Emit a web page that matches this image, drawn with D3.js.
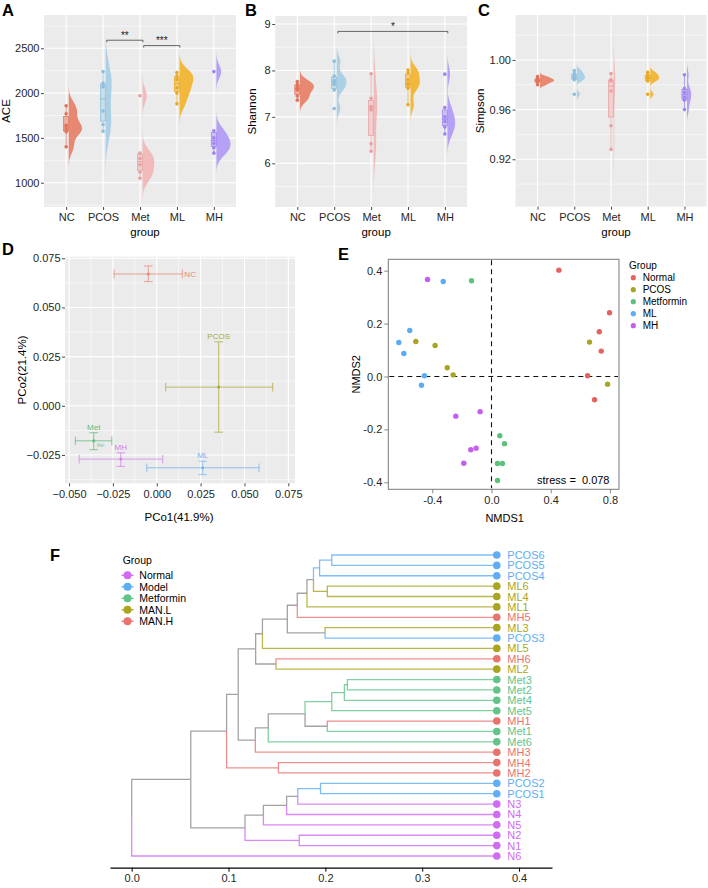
<!DOCTYPE html>
<html><head><meta charset="utf-8">
<script src="https://cdn.jsdelivr.net/npm/d3@7/dist/d3.min.js"></script>
<style>
body{margin:0;background:#fff}
svg{display:block}
text{font-family:"Liberation Sans",Arial,Helvetica,sans-serif}
</style>
</head><body>
<svg id="c" width="708" height="888"></svg>
<script>
// ================= DATA =================
const groups = ["NC","PCOS","Met","ML","MH"];
const violinColors = ["#E8836B","#A9CFE5","#F1B8B8","#F2B533","#B39CF5"];
const pointColors  = ["#E27258","#8DBFDC","#E9A0A0","#E9A925","#A084F0"];

const aceSamples = [
  [1858,1770,1640,1600,1570,1400],
  [2240,2110,2070,1800,1650,1575],
  [1970,1330,1270,1200,1120,1050],
  [2230,2190,2150,2060,2000,1880],
  [2240,1580,1500,1440,1390,1330]];
const shannonSamples = [
  [7.76,7.70,7.63,7.58,7.45,7.36],
  [8.20,7.88,7.78,7.70,7.58,7.18],
  [7.93,7.40,7.22,7.15,6.42,6.26],
  [8.01,7.95,7.80,7.70,7.62,7.26],
  [7.92,7.20,7.00,6.90,6.78,6.63]];
const simpsonSamples = [
  [0.9866,0.985,0.984,0.983,0.982,0.980],
  [0.9914,0.989,0.987,0.985,0.984,0.9724],
  [0.989,0.984,0.983,0.975,0.947,0.928],
  [0.990,0.988,0.986,0.985,0.983,0.9724],
  [0.988,0.977,0.974,0.970,0.9675,0.960]];
const aceTicks = [1000,1500,2000,2500];
const aceMinor = [750,1250,1750,2250,2750];
const shannonTicks = [6,7,8,9];
const shannonMinor = [5.5,6.5,7.5,8.5];
const simpsonTicks = [0.92,0.96,1.00];
const simpsonMinor = [0.90,0.94,0.98,1.02];
const aceSig = [{a:2,b:3,y:2590,label:"**"},{a:3,b:4,y:2530,label:"***"}];
const shannonSig = [{a:2,b:5,y:8.84,label:"*"}];

// PCoA (D)
const pcoaGroups = ["NC","PCOS","Met","MH","ML"];
const pcoaColors = ["#E9877A","#ABA83A","#5DBB7B","#D47FEA","#74B3EE"];
const pcoaX    = [-0.0048, 0.0353,-0.0359,-0.0205, 0.0262];
const pcoaY    = [ 0.0670, 0.0095,-0.0178,-0.0271,-0.0315];
const pcoaXmin = [-0.0243, 0.0051,-0.0464,-0.0442,-0.0057];
const pcoaXmax = [ 0.0146, 0.0661,-0.0256, 0.0034, 0.0583];
const pcoaYmin = [ 0.0631,-0.0134,-0.0223,-0.0308,-0.0350];
const pcoaYmax = [ 0.0711, 0.0325,-0.0137,-0.0239,-0.0282];
const pcoaXTicks = [-0.05,-0.025,0,0.025,0.05,0.075];
const pcoaYTicks = [-0.025,0,0.025,0.05,0.075];

// NMDS (E)
const nmdsGroups = ["Normal","PCOS","Metformin","ML","MH"];
const nmdsColors = ["#E5625E","#A9A523","#5DC17C","#5CACF3","#C55DF0"];
const nmdsX = [
  [0.455,0.797,0.728,0.741,0.649,0.696],
  [-0.511,-0.381,-0.299,-0.259,0.662,0.784],
  [-0.135,0.056,0.088,0.0405,0.074,0.0405],
  [-0.326,-0.626,-0.552,-0.592,-0.453,-0.473],
  [-0.432,-0.241,-0.077,-0.140,-0.104,-0.187]];
const nmdsY = [
  [0.402,0.241,0.169,0.096,0.003,-0.088],
  [0.132,0.117,0.033,0.006,0.130,-0.029],
  [0.362,-0.224,-0.254,-0.329,-0.329,-0.393],
  [0.359,0.1285,0.174,0.087,0.003,-0.033],
  [0.367,-0.150,-0.133,-0.277,-0.271,-0.328]];
const nmdsXTicks = [-0.4,0,0.4,0.8];
const nmdsYTicks = [-0.4,-0.2,0,0.2,0.4];
const nmdsStress = "0.078";

// Dendrogram (F): [height, left, right]
const dendroTree =
[0.000,
  [0.061,
    [0.098,
      [0.110,
        [0.128,
          [0.135,
            [0.1607,
              [0.171,
                [0.181,
                  [0.1877,
                    [0.194,[0.2066,"PCOS6","PCOS5"],"PCOS4"],
                    [0.202,"ML6","ML4"]],
                  "ML1"],
                "MH5"],
              [0.1997,"ML3","PCOS3"]],
            "ML5"],
          [0.149,"MH6","ML2"]],
        [0.1277,
          [0.141,
            [0.179,
              [0.2066,[0.2196,[0.2227,"Met3","Met2"],"Met4"],"Met5"],
              [0.202,"MH1","Met1"]],
            "Met6"],
          "MH3"]],
      [0.1515,"MH4","MH2"]],
    [0.117,
      [0.136,
        [0.160,
          [0.1715,[0.195,"PCOS2","PCOS1"],"N3"],
          "N4"],
        "N5"],
      [0.173,"N2","N1"]]],
  "N6"];
const dendroLeafHeight = 0.377;
const dendroLegend = ["Normal","Model","Metformin","MAN.L","MAN.H"];
const dendroPrefix = ["N","PCOS","Met","ML","MH"];
const dendroColors = ["#CF6CF2","#5FADF4","#63C48A","#A9A520","#E8736F"];
const dendroTicks = [0,0.1,0.2,0.3,0.4];

// ================= DRAW =================
const svg = d3.select("#c");
const TXT = "#262626";

function panelLabel(t,x,y){
  svg.append("text").attr("x",x).attr("y",y).attr("font-size",16.5).attr("font-weight","bold").attr("fill","#000").text(t);
}
function styleAxis(g, fs){
  g.select(".domain").remove();
  g.selectAll(".tick line").attr("stroke","#333").attr("stroke-width",0.9);
  g.selectAll(".tick text").attr("fill",TXT).attr("font-size",fs).attr("font-family",'"Liberation Sans",Arial,sans-serif');
}
function bwNrd0(v){
  const s = v.slice().sort(d3.ascending);
  const sd = d3.deviation(s);
  const iqr = d3.quantile(s,0.75)-d3.quantile(s,0.25);
  let lo = Math.min(sd, iqr/1.34);
  if(!(lo>0)) lo = sd || 1;
  return 0.9*lo*Math.pow(s.length,-0.2);
}
function kde(values,bw,lo,hi,n){
  return d3.range(n).map(i=>{
    const t = lo+(hi-lo)*i/(n-1);
    return [t, d3.mean(values,v=>Math.exp(-0.5*((t-v)/bw)**2))/(bw*Math.sqrt(2*Math.PI))];
  });
}
let clipN = 0;
function violinPanel(c){
  const x = d3.scaleLinear().domain([0.4,5.6]).range([c.left,c.right]);
  const y = d3.scaleLinear().domain(c.domain).range([c.bottom,c.top]);
  const unit = x(1)-x(0);
  const g = svg.append("g");
  g.append("rect").attr("x",c.left).attr("y",c.top).attr("width",c.right-c.left).attr("height",c.bottom-c.top).attr("fill","#EBEBEB");
  c.minor.forEach(v=>g.append("line").attr("x1",c.left).attr("x2",c.right).attr("y1",y(v)).attr("y2",y(v)).attr("stroke","#fff").attr("stroke-width",0.55));
  c.ticks.forEach(v=>g.append("line").attr("x1",c.left).attr("x2",c.right).attr("y1",y(v)).attr("y2",y(v)).attr("stroke","#fff").attr("stroke-width",1.1));
  groups.forEach((_,i)=>g.append("line").attr("x1",x(i+1)).attr("x2",x(i+1)).attr("y1",c.top).attr("y2",c.bottom).attr("stroke","#fff").attr("stroke-width",1.1));
  const id = "clip"+(clipN++);
  svg.append("clipPath").attr("id",id).append("rect").attr("x",c.left).attr("y",c.top).attr("width",c.right-c.left).attr("height",c.bottom-c.top);
  const m = g.append("g").attr("clip-path",`url(#${id})`);
  const dens = c.samples.map(s=>{const bw=bwNrd0(s);return kde(s,bw,d3.min(s)-3*bw,d3.max(s)+3*bw,256);});
  const maxD = d3.max(dens,d=>d3.max(d,e=>e[1]));
  const maxW = 0.38*unit;
  dens.forEach((d,i)=>{
    const x0 = x(i+1)+0.07*unit;
    const area = d3.area().y(e=>y(e[0])).x0(x0).x1(e=>x0+maxW*e[1]/maxD);
    m.append("path").attr("d",area(d)).attr("fill",violinColors[i]).attr("fill-opacity",0.95);
  });
  c.samples.forEach((s0,i)=>{
    const s = s0.slice().sort(d3.ascending);
    const q1=d3.quantile(s,0.25), md=d3.quantile(s,0.5), q3=d3.quantile(s,0.75), iqr=q3-q1;
    const wlo = d3.min(s.filter(v=>v>=q1-1.5*iqr)), whi = d3.max(s.filter(v=>v<=q3+1.5*iqr));
    const cx = x(i+1), hw = 0.07*unit, col = pointColors[i];
    m.append("line").attr("x1",cx).attr("x2",cx).attr("y1",y(q3)).attr("y2",y(whi)).attr("stroke",col).attr("stroke-width",0.8);
    m.append("line").attr("x1",cx).attr("x2",cx).attr("y1",y(q1)).attr("y2",y(wlo)).attr("stroke",col).attr("stroke-width",0.8);
    m.append("rect").attr("x",cx-hw).attr("width",2*hw).attr("y",y(q3)).attr("height",y(q1)-y(q3))
      .attr("fill",violinColors[i]).attr("fill-opacity",0.6).attr("stroke",col).attr("stroke-width",0.7);
    m.append("line").attr("x1",cx-hw).attr("x2",cx+hw).attr("y1",y(md)).attr("y2",y(md)).attr("stroke",col).attr("stroke-width",1);
    s.forEach(v=>m.append("circle").attr("cx",cx).attr("cy",y(v)).attr("r",1.8).attr("fill",col));
  });
  (c.sig||[]).forEach(b=>{
    const x1=x(b.a+0.1), x2=x(b.b+0.08), yy=y(b.y);
    g.append("path").attr("d",`M${x1},${yy+2}V${yy}H${x2}V${yy+2}`).attr("fill","none").attr("stroke","#444").attr("stroke-width",0.8);
    g.append("text").attr("x",(x1+x2)/2).attr("y",yy-1.5).attr("text-anchor","middle").attr("font-size",10).attr("fill","#222").text(b.label);
  });
  const ya = svg.append("g").attr("transform",`translate(${c.left},0)`)
    .call(d3.axisLeft(y).tickValues(c.ticks).tickFormat(c.fmt).tickSize(3).tickPadding(1.5));
  styleAxis(ya,11);
  const xa = svg.append("g").attr("transform",`translate(0,${c.bottom})`)
    .call(d3.axisBottom(x).tickValues([1,2,3,4,5]).tickFormat(i=>groups[i-1]).tickSize(3).tickPadding(3.5));
  styleAxis(xa,11);
  svg.append("text").attr("transform",`translate(${c.ytx},${(c.top+c.bottom)/2}) rotate(-90)`).attr("text-anchor","middle").attr("font-size",11.5).attr("fill","#000").text(c.ytitle);
  svg.append("text").attr("x",(c.left+c.right)/2+5).attr("y",236).attr("text-anchor","middle").attr("font-size",11.5).attr("fill","#000").text("group");
}

violinPanel({left:44,right:236,top:15,bottom:207,domain:[728.8,2871.6],ticks:aceTicks,minor:aceMinor,fmt:d3.format("d"),samples:aceSamples,ytitle:"ACE",ytx:10,sig:aceSig});
violinPanel({left:275.2,right:467,top:16,bottom:207,domain:[5.06,9.172],ticks:shannonTicks,minor:shannonMinor,fmt:d3.format("d"),samples:shannonSamples,ytitle:"Shannon",ytx:256,sig:shannonSig});
violinPanel({left:515.5,right:706.5,top:15,bottom:206.7,domain:[0.8818,1.0362],ticks:simpsonTicks,minor:simpsonMinor,fmt:d3.format(".2f"),samples:simpsonSamples,ytitle:"Simpson",ytx:484});
panelLabel("A",2,16); panelLabel("B",245,16); panelLabel("C",478,16);

// ---------- D: PCoA ----------
(function(){
  const L=65,R=295,T=256.7,B=483.3;
  const x=d3.scaleLinear().domain([-0.0523,0.0788]).range([L,R]);
  const y=d3.scaleLinear().domain([-0.0394,0.0758]).range([B,T]);
  const g=svg.append("g");
  g.append("rect").attr("x",L).attr("y",T).attr("width",R-L).attr("height",B-T).attr("fill","#EBEBEB");
  const xmin=d3.range(pcoaXTicks.length-1).map(i=>(pcoaXTicks[i]+pcoaXTicks[i+1])/2);
  const ymin=d3.range(pcoaYTicks.length-1).map(i=>(pcoaYTicks[i]+pcoaYTicks[i+1])/2).concat([-0.0375]);
  xmin.forEach(v=>g.append("line").attr("x1",x(v)).attr("x2",x(v)).attr("y1",T).attr("y2",B).attr("stroke","#fff").attr("stroke-width",0.55));
  ymin.forEach(v=>g.append("line").attr("y1",y(v)).attr("y2",y(v)).attr("x1",L).attr("x2",R).attr("stroke","#fff").attr("stroke-width",0.55));
  pcoaXTicks.forEach(v=>g.append("line").attr("x1",x(v)).attr("x2",x(v)).attr("y1",T).attr("y2",B).attr("stroke","#fff").attr("stroke-width",1.1));
  pcoaYTicks.forEach(v=>g.append("line").attr("y1",y(v)).attr("y2",y(v)).attr("x1",L).attr("x2",R).attr("stroke","#fff").attr("stroke-width",1.1));
  pcoaGroups.forEach((nm,i)=>{
    const col=pcoaColors[i];
    const cx=x(pcoaX[i]), cy=y(pcoaY[i]);
    const e=g.append("g").attr("stroke",col).attr("stroke-width",1).attr("stroke-opacity",0.75).attr("fill","none");
    e.append("line").attr("x1",x(pcoaXmin[i])).attr("x2",x(pcoaXmax[i])).attr("y1",cy).attr("y2",cy);
    e.append("line").attr("x1",x(pcoaXmin[i])).attr("x2",x(pcoaXmin[i])).attr("y1",cy-4.3).attr("y2",cy+4.3);
    e.append("line").attr("x1",x(pcoaXmax[i])).attr("x2",x(pcoaXmax[i])).attr("y1",cy-4.3).attr("y2",cy+4.3);
    e.append("line").attr("x1",cx).attr("x2",cx).attr("y1",y(pcoaYmin[i])).attr("y2",y(pcoaYmax[i]));
    e.append("line").attr("x1",cx-4.3).attr("x2",cx+4.3).attr("y1",y(pcoaYmin[i])).attr("y2",y(pcoaYmin[i]));
    e.append("line").attr("x1",cx-4.3).attr("x2",cx+4.3).attr("y1",y(pcoaYmax[i])).attr("y2",y(pcoaYmax[i]));
    g.append("circle").attr("cx",cx).attr("cy",cy).attr("r",1.5).attr("fill",col);
    if(nm==="NC"){
      g.append("text").attr("x",x(pcoaXmax[i])+2).attr("y",cy+3).attr("font-size",8).attr("fill",col).text(nm);
    } else {
      g.append("text").attr("x",cx).attr("y",y(pcoaYmax[i])-3).attr("text-anchor","middle").attr("font-size",8).attr("fill",col).text(nm);
    }
    if(nm==="Met"){
      g.append("text").attr("x",cx+3).attr("y",cy+6.5).attr("font-size",4.5).attr("fill",col).attr("fill-opacity",0.8).text(nm);
    }
  });
  const fmt=v=>d3.format(".3f")(v).replace("-","\u2212");
  styleAxis(svg.append("g").attr("transform",`translate(${L},0)`).call(d3.axisLeft(y).tickValues(pcoaYTicks).tickFormat(fmt).tickSize(3).tickPadding(1.5)),11);
  styleAxis(svg.append("g").attr("transform",`translate(0,${B})`).call(d3.axisBottom(x).tickValues(pcoaXTicks).tickFormat(fmt).tickSize(3).tickPadding(3.5)),11);
  svg.append("text").attr("transform",`translate(26,${(T+B)/2}) rotate(-90)`).attr("text-anchor","middle").attr("font-size",11.5).attr("fill","#000").text("PCo2(21.4%)");
  svg.append("text").attr("x",(L+R)/2-1).attr("y",521).attr("text-anchor","middle").attr("font-size",11.5).attr("fill","#000").text("PCo1(41.9%)");
  panelLabel("D",2,255);
})();

// ---------- E: NMDS ----------
(function(){
  const L=388.3,R=619,T=259.3,B=489.3;
  const x=d3.scaleLinear().domain([-0.697,0.861]).range([L,R]);
  const y=d3.scaleLinear().domain([-0.4265,0.443]).range([B,T]);
  const g=svg.append("g");
  g.append("line").attr("x1",x(0)).attr("x2",x(0)).attr("y1",T+1).attr("y2",B-1).attr("stroke","#111").attr("stroke-width",1.1).attr("stroke-dasharray","5,4");
  g.append("line").attr("x1",L+1).attr("x2",R-1).attr("y1",y(0)).attr("y2",y(0)).attr("stroke","#111").attr("stroke-width",1.1).attr("stroke-dasharray","5,4");
  nmdsGroups.forEach((nm,i)=>{
    nmdsX[i].forEach((vx,j)=>g.append("circle").attr("cx",x(vx)).attr("cy",y(nmdsY[i][j])).attr("r",2.7).attr("fill",nmdsColors[i]));
  });
  g.append("rect").attr("x",L).attr("y",T).attr("width",R-L).attr("height",B-T).attr("fill","none").attr("stroke","#7a7a7a").attr("stroke-width",1);
  g.append("text").attr("x",609.5).attr("y",484).attr("text-anchor","end").attr("font-size",11).attr("fill","#000").attr("xml:space","preserve").text("stress =  "+nmdsStress);
  const fmt=d3.format(".1f");
  const ax1=svg.append("g").attr("transform",`translate(${L},0)`).call(d3.axisLeft(y).tickValues(nmdsYTicks).tickFormat(v=>fmt(v).replace("−","-")).tickSize(4).tickPadding(2));
  styleAxis(ax1,11); ax1.selectAll(".tick line").attr("stroke","#7a7a7a");
  const ax2=svg.append("g").attr("transform",`translate(0,${B})`).call(d3.axisBottom(x).tickValues(nmdsXTicks).tickFormat(v=>fmt(v).replace("−","-")).tickSize(4).tickPadding(3));
  styleAxis(ax2,11); ax2.selectAll(".tick line").attr("stroke","#7a7a7a");
  svg.append("text").attr("transform",`translate(360,${(T+B)/2}) rotate(-90)`).attr("text-anchor","middle").attr("font-size",11).attr("fill","#000").text("NMDS2");
  svg.append("text").attr("x",(L+R)/2+1).attr("y",522).attr("text-anchor","middle").attr("font-size",11).attr("fill","#000").text("NMDS1");
  svg.append("text").attr("x",629).attr("y",268.5).attr("font-size",10).attr("fill","#000").text("Group");
  nmdsGroups.forEach((nm,i)=>{
    svg.append("circle").attr("cx",633.3).attr("cy",277.7+i*12).attr("r",2.6).attr("fill",nmdsColors[i]);
    svg.append("text").attr("x",642.7).attr("y",277.7+i*12+3.5).attr("font-size",10).attr("fill","#000").text(nm);
  });
  panelLabel("E",338,260);
})();

// ---------- F: dendrogram ----------
(function(){
  const x=d3.scaleLinear().domain([-0.0224,0.434]).range([110,552]);
  const root=d3.hierarchy(dendroTree,d=>Array.isArray(d)?d.slice(1):null);
  const leaves=root.leaves();
  const yl=d3.scaleLinear().domain([0,leaves.length-1]).range([555,856]);
  const grpOf=name=>dendroPrefix.indexOf(name.replace(/\d+$/,""));
  leaves.forEach((l,i)=>{l.py=yl(i);l.px=x(dendroLeafHeight);l.grp=grpOf(l.data);});
  root.eachAfter(n=>{
    if(n.children){
      n.py=d3.mean(n.children,c=>c.py); n.px=x(n.data[0]);
      const gs=new Set(n.children.map(c=>c.grp)); n.grp=gs.size===1?[...gs][0]:-1;
    }
  });
  const g=svg.append("g");
  const edges=root.descendants().filter(n=>n.parent);
  edges.sort((a,b)=>(a.grp>=0)-(b.grp>=0));
  edges.forEach(n=>{
    const p=n.parent;
    g.append("path").attr("d",`M${p.px},${p.py}V${n.py}H${n.px}`).attr("fill","none")
      .attr("stroke",n.grp>=0?dendroColors[n.grp]:"#9E9E9E").attr("stroke-opacity",n.grp>=0?0.8:0.95).attr("stroke-width",1.3);
  });
  leaves.forEach(l=>{
    g.append("circle").attr("cx",l.px).attr("cy",l.py).attr("r",3.8).attr("fill",dendroColors[l.grp]);
    g.append("text").attr("x",507.3).attr("y",l.py+4).attr("font-size",11).attr("fill",dendroColors[l.grp]).text(l.data);
  });
  const ax=svg.append("g").attr("transform","translate(0,867.7)").call(d3.axisBottom(x).tickValues(dendroTicks).tickFormat(d3.format(".1f")).tickSize(4).tickSizeOuter(0).tickPadding(3));
  ax.select(".domain").attr("stroke","#000").attr("stroke-width",1.3);
  ax.selectAll(".tick line").attr("stroke","#000").attr("stroke-width",1);
  ax.selectAll(".tick text").attr("fill",TXT).attr("font-size",11);
  // legend
  svg.append("text").attr("x",122.7).attr("y",563.5).attr("font-size",10.5).attr("fill","#000").text("Group");
  dendroLegend.forEach((nm,i)=>{
    const yy=575.3+i*11.5;
    svg.append("line").attr("x1",121.5).attr("x2",133.5).attr("y1",yy).attr("y2",yy).attr("stroke",dendroColors[i]).attr("stroke-width",1.3);
    svg.append("circle").attr("cx",127.5).attr("cy",yy).attr("r",4).attr("fill",dendroColors[i]);
    svg.append("text").attr("x",139.3).attr("y",yy+3.8).attr("font-size",10.5).attr("fill","#000").text(nm);
  });
  panelLabel("F",50,561);
})();
</script>
</body></html>
